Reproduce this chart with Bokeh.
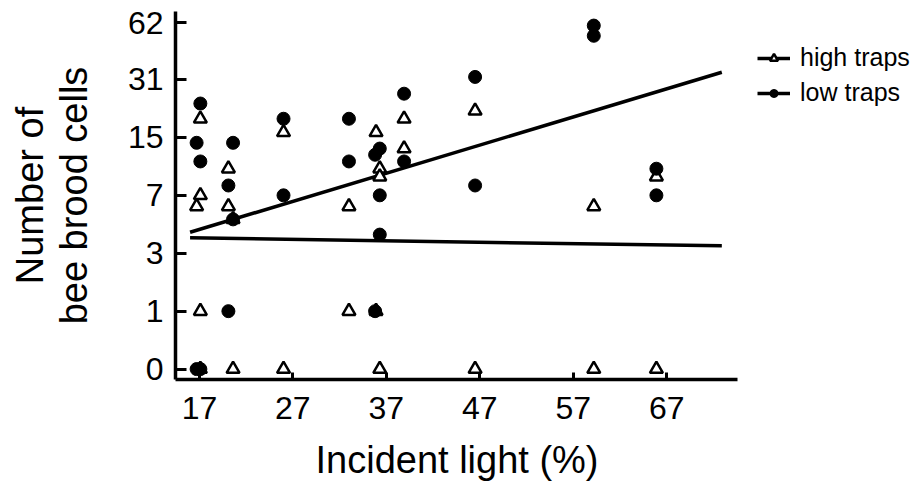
import numpy as np
from bokeh.plotting import figure
from bokeh.models import (Range1d, FixedTicker, Legend, LegendItem, ColumnDataSource,
                          CustomJSTickFormatter, Title)
from bokeh.embed import file_html
from bokeh.resources import INLINE

# ---- data ----
high_light = [17.1, 17.1, 16.7, 17.1, 17.1, 20.1, 20.1, 20.6, 20.6, 26.0, 26.0, 33.0, 33.0,
              35.9, 35.9, 36.3, 36.3, 36.3, 38.9, 38.9, 46.5, 46.5, 59.2, 59.2, 65.9, 65.9]
high_cells = [19, 7, 6, 1, 0, 10, 6, 5, 0, 16, 0, 6, 1,
              16, 1, 10, 9, 0, 19, 13, 21, 0, 6, 0, 9, 0]
low_light = [17.1, 17.1, 17.1, 16.7, 16.7, 20.1, 20.1, 20.6, 20.6, 26.0, 26.0, 33.0, 33.0,
             35.8, 35.8, 36.3, 36.3, 36.3, 38.9, 38.9, 46.5, 46.5, 59.2, 59.2, 65.9, 65.9]
low_cells = [23, 11, 0, 14, 0, 8, 1, 14, 5, 19, 7, 19, 11,
             12, 1, 13, 7, 4, 26, 11, 32, 8, 60, 53, 10, 7]

fit_light = [16.0, 72.9]
high_fit_cells = [3.81, 3.37]
low_fit_cells = [4.14, 33.9]

x_ticks = [17, 27, 37, 47, 57, 67]
x_axis_bounds = (14.44, 74.58)
y_tick_labels = [0, 1, 3, 7, 15, 31, 62]


def tr(v):
    return np.log2(np.asarray(v, dtype=float) + 1.0)


FONT = "Liberation Sans"

# frame extends to the right edge so that the legend sits inside it;
# the x axis line itself is limited with axis bounds
p = figure(width=917, height=499, output_backend="svg", toolbar_location=None,
           x_range=Range1d(14.44, 93.84), y_range=Range1d(-0.18, 6.174),
           min_border_left=175, min_border_right=0, min_border_top=11, min_border_bottom=120)
p.outline_line_color = None
p.xgrid.visible = False
p.ygrid.visible = False
p.background_fill_color = "white"
p.border_fill_color = "white"

high_src = ColumnDataSource(dict(x=high_light, y=tr(high_cells)))
low_src = ColumnDataSource(dict(x=low_light, y=tr(low_cells)))

high_line = p.line(fit_light, tr(high_fit_cells), line_color="black", line_width=3.5)
low_line = p.line(fit_light, tr(low_fit_cells), line_color="black", line_width=3.5)

high_sc = p.scatter("x", "y", source=high_src, marker="triangle", size=13,
                    fill_color="white", line_color="black", line_width=2.5)
low_sc = p.scatter("x", "y", source=low_src, marker="circle", size=13,
                   fill_color="black", line_color="black")

# axes
for ax in (p.xaxis[0], p.yaxis[0]):
    ax.axis_line_width = 3.5
    ax.axis_line_color = "black"
    ax.major_tick_line_width = 3
    ax.major_tick_line_color = "black"
    ax.minor_tick_line_color = None
    ax.major_label_text_font = FONT
    ax.major_label_text_font_size = "32px"
    ax.major_label_text_color = "black"
    ax.axis_label_text_font = FONT
    ax.axis_label_text_font_size = "38px"
    ax.axis_label_text_font_style = "normal"
    ax.axis_label_text_color = "black"

p.xaxis.bounds = x_axis_bounds
p.xaxis.ticker = FixedTicker(ticks=x_ticks)
p.xaxis.major_tick_in = 7
p.xaxis.major_tick_out = 0
p.xaxis.major_label_standoff = 17

# x axis title centred under the bounded axis line
xtitle = Title(text="Incident light (%)", align="left", offset=140, standoff=31,
               text_font=FONT, text_font_size="38px", text_font_style="normal",
               text_color="black")
p.add_layout(xtitle, "below")

p.yaxis.ticker = FixedTicker(ticks=list(tr(y_tick_labels)))
p.yaxis.formatter = CustomJSTickFormatter(code="return String(Math.round(Math.pow(2, tick) - 1));")
p.yaxis.major_tick_in = 11
p.yaxis.major_tick_out = 0
p.yaxis.major_label_standoff = 12
p.yaxis.axis_label = "Number of\nbee brood cells"
p.yaxis.axis_label_standoff = 30
p.yaxis.axis_label_text_line_height = 1.05

legend = Legend(items=[LegendItem(label="high traps", renderers=[high_line, high_sc]),
                       LegendItem(label="low traps", renderers=[low_line, low_sc])],
                location=(582, 272), orientation="vertical")
legend.background_fill_alpha = 0
legend.border_line_color = None
legend.padding = 0
legend.margin = 0
legend.spacing = 6
legend.glyph_width = 33
legend.glyph_height = 20
legend.label_standoff = 10
legend.label_text_font = FONT
legend.label_text_font_size = "25px"
legend.label_text_color = "black"
p.add_layout(legend)

open("out.html", "w").write(file_html(p, INLINE))
